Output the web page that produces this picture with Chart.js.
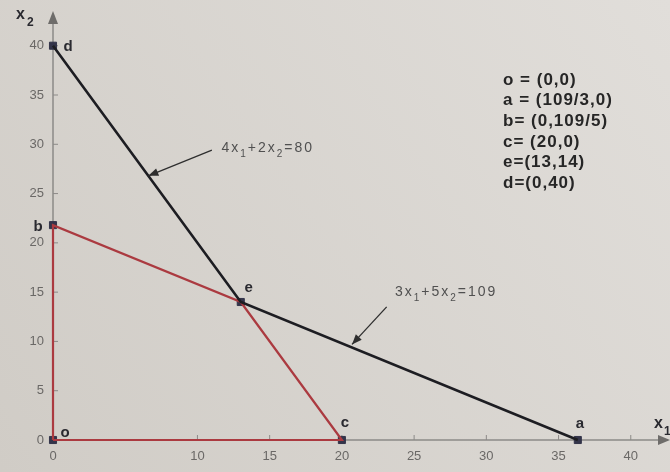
<!DOCTYPE html>
<html>
<head>
<meta charset="utf-8">
<script src="https://cdn.jsdelivr.net/npm/chart.js@4/dist/chart.umd.min.js"></script>
<style>
html, body { margin: 0; padding: 0; background: #d8d4cf; }
canvas { display: block; }
</style>
</head>
<body>
<canvas id="lp" width="670" height="472"></canvas>
<script>
// tick labels
var xTicks = [0, 10, 15, 20, 25, 30, 35, 40];
var yTicks = [0, 5, 10, 15, 20, 25, 30, 35, 40];

// feasible region o-b-e-c-o (red)
var regionX = [0, 0, 13, 20, 0];
var regionY = [0, 109 / 5, 14, 0, 0];

// constraint lines d-e-a (black)
var lineX = [0, 13, 109 / 3];
var lineY = [40, 14, 0];

// corner points
var pointNames = ['o', 'b', 'e', 'c', 'a', 'd'];
var pointX = [0, 0, 13, 20, 109 / 3, 0];
var pointY = [0, 109 / 5, 14, 0, 0, 40];

var cornerText = ['o = (0,0)', 'a = (109/3,0)', 'b= (0,109/5)', 'c= (20,0)', 'e=(13,14)', 'd=(0,40)'];

// equation labels, [text, subscript?]
var eqText = [
	[['4x', 0], ['1', 1], ['+2x', 0], ['2', 1], ['=80', 0]],
	[['3x', 0], ['1', 1], ['+5x', 0], ['2', 1], ['=109', 0]]
];

function pts(xs, ys) {
	return xs.map(function (x, i) { return { x: x, y: ys[i] }; });
}

// where the equation labels and their arrows go (data units)
var eqPlace = [
	{ text: [11.66, 29.6], tail: [11.0, 29.4], tip: [6.6, 26.8] },
	{ text: [23.67, 15.0], tail: [23.1, 13.5], tip: [20.7, 9.7] }
];
var nameOffset = { o: [12, -7], b: [-15, 2], e: [8, -14], c: [3, -17], a: [2, -16], d: [15, 1] };

var paper = {
	id: 'paper',
	beforeDraw: function (chart) {
		var c = chart.ctx;
		var g = c.createLinearGradient(0, 472, 670, 0);
		g.addColorStop(0, '#d0ccc6');
		g.addColorStop(1, '#e1deda');
		c.save();
		c.fillStyle = g;
		c.fillRect(0, 0, chart.width, chart.height);
		c.restore();
	}
};

function arrowHead(c, x0, y0, x1, y1, len, w) {
	var a = Math.atan2(y1 - y0, x1 - x0);
	c.beginPath();
	c.moveTo(x1, y1);
	c.lineTo(x1 - len * Math.cos(a) + w * Math.sin(a), y1 - len * Math.sin(a) - w * Math.cos(a));
	c.lineTo(x1 - len * Math.cos(a) - w * Math.sin(a), y1 - len * Math.sin(a) + w * Math.cos(a));
	c.closePath();
	c.fill();
}

var axesDraw = {
	id: 'axesDraw',
	beforeDatasetsDraw: function (chart) {
		var c = chart.ctx;
		var sx = chart.scales.x, sy = chart.scales.y;
		var x0 = sx.getPixelForValue(0), y0 = sy.getPixelForValue(0);
		c.save();
		c.strokeStyle = '#8c8a88';
		c.fillStyle = '#6e6c6a';
		c.lineWidth = 1.5;
		c.beginPath();
		c.moveTo(x0, y0); c.lineTo(x0, 14);
		c.moveTo(x0, y0); c.lineTo(668, y0);
		c.stroke();
		arrowHead(c, x0, 40, x0, 11, 13, 5);
		arrowHead(c, 640, y0, 670, y0, 12, 5);
		c.lineWidth = 1;
		yTicks.forEach(function (v) {
			var p = sy.getPixelForValue(v);
			c.beginPath(); c.moveTo(x0, p); c.lineTo(x0 + 5, p); c.stroke();
		});
		xTicks.forEach(function (v) {
			var p = sx.getPixelForValue(v);
			c.beginPath(); c.moveTo(p, y0); c.lineTo(p, y0 - 5); c.stroke();
		});
		c.restore();
	},
	afterDraw: function (chart) {
		var c = chart.ctx;
		var sx = chart.scales.x, sy = chart.scales.y;
		c.save();
		c.textBaseline = 'middle';
		// point names
		c.fillStyle = '#2a2a30';
		c.font = 'bold 15px "Liberation Sans", Arial, sans-serif';
		pointNames.forEach(function (n, i) {
			var o = nameOffset[n];
			c.textAlign = 'center';
			c.fillText(n, sx.getPixelForValue(pointX[i]) + o[0], sy.getPixelForValue(pointY[i]) + o[1]);
		});
		// axis names
		c.textAlign = 'left';
		c.font = 'bold 16px "Liberation Sans", Arial, sans-serif';
		c.fillText('x', 16, 15);
		c.fillText('x', 654, 424);
		c.font = 'bold 12px "Liberation Sans", Arial, sans-serif';
		c.fillText('2', 27, 23);
		c.fillText('1', 664, 432);
		// corner list
		c.fillStyle = '#262626';
		c.font = 'bold 17px "Liberation Sans", Arial, sans-serif';
		c.letterSpacing = '1px';
		cornerText.forEach(function (t, i) {
			c.fillText(t, 503, 80 + i * 20.7);
		});
		// equations with arrows
		c.letterSpacing = '2px';
		eqPlace.forEach(function (p, k) {
			var tx = sx.getPixelForValue(p.tail[0]), ty = sy.getPixelForValue(p.tail[1]);
			var hx = sx.getPixelForValue(p.tip[0]), hy = sy.getPixelForValue(p.tip[1]);
			c.strokeStyle = '#2e2e2e';
			c.fillStyle = '#2e2e2e';
			c.lineWidth = 1.3;
			c.beginPath(); c.moveTo(tx, ty); c.lineTo(hx, hy); c.stroke();
			arrowHead(c, tx, ty, hx, hy, 10, 4);
			var x = sx.getPixelForValue(p.text[0]), y = sy.getPixelForValue(p.text[1]);
			c.fillStyle = '#505050';
			eqText[k].forEach(function (part) {
				c.font = (part[1] ? '10px' : '14px') + ' "Liberation Sans", Arial, sans-serif';
				c.fillText(part[0], x, y + (part[1] ? 6 : 0));
				x += c.measureText(part[0]).width;
			});
		});
		c.restore();
	}
};

var tickFont = { family: '"Liberation Sans", Arial, sans-serif', size: 13 };

new Chart(document.getElementById('lp'), {
	type: 'scatter',
	data: {
		datasets: [
			{
				data: pts(lineX, lineY),
				showLine: true,
				borderColor: '#1d1d22',
				borderWidth: 2.6,
				pointRadius: 0,
				clip: false
			},
			{
				data: pts(regionX, regionY),
				showLine: true,
				borderColor: '#ab3a40',
				borderWidth: 2.2,
				pointRadius: 0,
				clip: false
			},
			{
				data: pts(pointX, pointY),
				showLine: false,
				pointStyle: 'rect',
				pointRadius: 5,
				backgroundColor: '#33344a',
				borderColor: '#33344a',
				borderWidth: 1,
				clip: false
			}
		]
	},
	options: {
		responsive: false,
		animation: false,
		layout: { padding: { top: 26, right: 4, left: 0, bottom: 0 } },
		plugins: { legend: { display: false }, tooltip: { enabled: false } },
		scales: {
			x: {
				type: 'linear',
				min: 0,
				max: 42.3,
				afterFit: function (s) { s.height = 32; },
				afterBuildTicks: function (s) { s.ticks = xTicks.map(function (v) { return { value: v }; }); },
				grid: { display: false, drawTicks: false },
				border: { display: false },
				ticks: { color: '#6a6866', font: tickFont, padding: 9, maxRotation: 0, autoSkip: false }
			},
			y: {
				type: 'linear',
				min: 0,
				max: 42,
				afterFit: function (s) { s.width = 53; },
				afterBuildTicks: function (s) { s.ticks = yTicks.map(function (v) { return { value: v }; }); },
				grid: { display: false, drawTicks: false },
				border: { display: false },
				ticks: { color: '#6a6866', font: tickFont, padding: 9, autoSkip: false }
			}
		}
	},
	plugins: [paper, axesDraw]
});
</script>
</body>
</html>
